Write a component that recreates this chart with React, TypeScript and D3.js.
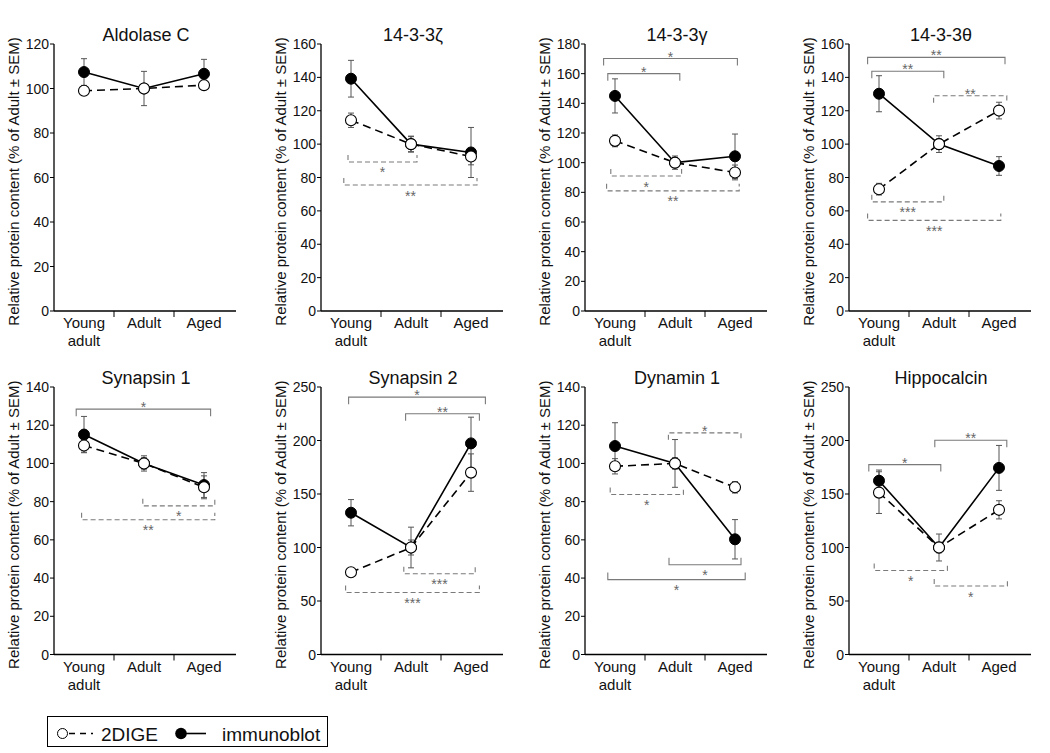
import React from "react";
import * as d3 from "d3";

// ---------- data ----------
const categories = ["Young adult", "Adult", "Aged"];
const panelTitles = ["Aldolase C", "14-3-3ζ", "14-3-3γ", "14-3-3θ", "Synapsin 1", "Synapsin 2", "Dynamin 1", "Hippocalcin"];
const yMaxValues = [120, 160, 180, 160, 140, 250, 140, 250];
const yStepValues = [20, 20, 20, 20, 20, 50, 20, 50];

const digeMean = [
  [99, 100, 101.5],
  [114.3, 100, 92.6],
  [114.7, 100, 93.4],
  [73, 100, 120.1],
  [109.4, 100, 87.5],
  [76.8, 100, 170],
  [98.5, 100, 87.5],
  [151.3, 100, 135.2],
];
const digeSem = [
  [1.5, 2, 1.5],
  [4.3, 4.8, 5],
  [4, 4.5, 5],
  [3.5, 5, 5],
  [3.5, 4, 6],
  [4, 7, 17.5],
  [4, 3, 3],
  [19.5, 5, 8.5],
];
const immunoMean = [
  [107.4, 100, 106.6],
  [139.2, 100, 95],
  [145, 100, 104.3],
  [130.2, 100, 86.9],
  [115.1, 100, 88.7],
  [132.5, 100, 197.3],
  [109.1, 100, 60.3],
  [162.4, 100, 174.4],
];
const immunoSem = [
  [6, 7.7, 6.5],
  [11, 4.5, 15],
  [11.5, 3, 15],
  [10.8, 3, 5.6],
  [9.5, 3, 6.5],
  [12.3, 19, 24.5],
  [12.2, 12.5, 10.3],
  [10, 12.6, 21],
];

type Bracket = { from: number; to: number; y: number; label: string; kind: "solid" | "dashed"; side: "above" | "below" };
const b = (from: number, to: number, y: number, label: string, kind: "solid" | "dashed", side: "above" | "below"): Bracket => ({ from, to, y, label, kind, side });

const significance: Bracket[][] = [
  [],
  [b(-0.05, 1.1, 89.3, "*", "dashed", "below"), b(-0.12, 2.1, 75.5, "**", "dashed", "below")],
  [
    b(-0.19, 2.04, 170.2, "*", "solid", "above"),
    b(-0.12, 1.08, 160, "*", "solid", "above"),
    b(-0.07, 1.11, 91, "*", "dashed", "below"),
    b(-0.14, 2.07, 81, "**", "dashed", "below"),
  ],
  [
    b(-0.19, 2.1, 152, "**", "solid", "above"),
    b(-0.12, 1.08, 143.7, "**", "solid", "above"),
    b(0.91, 2.13, 129, "**", "dashed", "above"),
    b(-0.12, 1.08, 65.4, "***", "dashed", "below"),
    b(-0.19, 2.03, 54.3, "***", "dashed", "below"),
  ],
  [
    b(-0.13, 2.11, 128.4, "*", "solid", "above"),
    b(0.98, 2.18, 77.8, "*", "dashed", "below"),
    b(-0.04, 2.18, 70.5, "**", "dashed", "below"),
  ],
  [
    b(-0.04, 2.24, 240.5, "*", "solid", "above"),
    b(0.91, 2.14, 225, "**", "solid", "above"),
    b(0.88, 2.07, 75.4, "***", "dashed", "below"),
    b(-0.09, 2.14, 57.9, "***", "dashed", "below"),
  ],
  [
    b(0.89, 2.1, 116, "*", "dashed", "above"),
    b(-0.08, 1.14, 83.7, "*", "dashed", "below"),
    b(0.9, 2.1, 47, "*", "solid", "below"),
    b(-0.12, 2.17, 39.2, "*", "solid", "below"),
  ],
  [
    b(-0.17, 1.03, 177.5, "*", "solid", "above"),
    b(0.93, 2.13, 200.2, "**", "solid", "above"),
    b(-0.08, 1.14, 78.5, "*", "dashed", "below"),
    b(0.92, 2.14, 64, "*", "dashed", "below"),
  ],
];

const legendLabels = ["2DIGE", "immunoblot"];
const yAxisLabel = "Relative protein content (% of Adult ± SEM)";

// ---------- layout ----------
const W = 1050;
const H = 753;
const FONT = "'Liberation Sans', Arial, Helvetica, sans-serif";
const colLeft = [54, 321, 585, 849];
const rowTop = [44, 387];
const rowZero = [311, 654.5];
const titleY = [41, 383.5];
const PLOT_W = 180;
const ERR_COL = "#555";
const BR_COL = "#7a7a7a";

function Panel({ i }: { i: number }) {
  const col = i % 4;
  const row = Math.floor(i / 4);
  const x0 = colLeft[col];
  const band = d3.scaleBand().domain(categories).range([x0, x0 + PLOT_W]).padding(0);
  const xi = d3.scaleLinear().domain([-0.5, categories.length - 0.5]).range([x0, x0 + PLOT_W]);
  const y = d3.scaleLinear().domain([0, yMaxValues[i]]).range([rowZero[row], rowTop[row]]);
  const ticks = d3.range(0, yMaxValues[i] + 0.001, yStepValues[i]);
  const line = d3
    .line<number>()
    .x((_, k) => xi(k))
    .y((d) => y(d));

  const series = [
    { mean: digeMean[i], sem: digeSem[i] },
    { mean: immunoMean[i], sem: immunoSem[i] },
  ];

  const zero = rowZero[row];
  const top = rowTop[row];

  return (
    <g>
      <text x={x0 + 92} y={titleY[row]} textAnchor="middle" fontSize={18} fontFamily={FONT} fill="#111">
        {panelTitles[i]}
      </text>
      <text
        transform={`translate(${x0 - 35},${(top + zero) / 2 + 4}) rotate(-90)`}
        textAnchor="middle"
        fontSize={15}
        fontFamily={FONT}
        fill="#111"
      >
        {yAxisLabel}
      </text>
      <line x1={x0} x2={x0} y1={zero} y2={top} stroke="#000" strokeWidth={1.3} />
      {ticks.map((t) => (
        <g key={t}>
          <line x1={x0 - 4} x2={x0} y1={y(t)} y2={y(t)} stroke="#000" strokeWidth={1} />
          <text x={x0 - 5} y={y(t) + 5} textAnchor="end" fontSize={14} fontFamily={FONT} fill="#111">
            {t}
          </text>
        </g>
      ))}
      <line x1={x0} x2={x0 + PLOT_W + 2} y1={zero} y2={zero} stroke="#000" strokeWidth={1.3} />
      {categories.slice(1).map((c) => (
        <line key={c} x1={band(c)!} x2={band(c)!} y1={zero} y2={zero + 6} stroke="#000" strokeWidth={1} />
      ))}
      {categories.map((c) => (
        <text key={c} x={band(c)! + band.bandwidth() / 2} y={zero + 17} textAnchor="middle" fontSize={15} fontFamily={FONT} fill="#111">
          {c.split(" ").map((w, k) => (
            <tspan key={k} x={band(c)! + band.bandwidth() / 2} dy={k === 0 ? 0 : 18}>
              {w}
            </tspan>
          ))}
        </text>
      ))}
      {significance[i].map((br, k) => {
        const yy = y(br.y);
        const dir = br.side === "above" ? 7 : -7;
        const xa = xi(br.from);
        const xb = xi(br.to);
        const dash = br.kind === "dashed" ? "5,3" : undefined;
        return (
          <g key={k}>
            <path
              d={`M${xa},${yy + dir}V${yy}H${xb}V${yy + dir}`}
              fill="none"
              stroke={BR_COL}
              strokeWidth={1.1}
              strokeDasharray={dash}
            />
            <text
              x={(xa + xb) / 2}
              y={br.side === "above" ? yy + 3 : yy + 15.5}
              textAnchor="middle"
              fontSize={14}
              fontFamily={FONT}
              fill="#666"
            >
              {br.label}
            </text>
          </g>
        );
      })}
      {series.map((s, si) =>
        s.mean.map((m, k) => {
          const cx = xi(k);
          const y1 = y(m + s.sem[k]);
          const y2 = y(m - s.sem[k]);
          return (
            <g key={`e${si}-${k}`} stroke={ERR_COL} strokeWidth={1}>
              <line x1={cx} x2={cx} y1={y1} y2={y2} />
              <line x1={cx - 3} x2={cx + 3} y1={y1} y2={y1} />
              <line x1={cx - 3} x2={cx + 3} y1={y2} y2={y2} />
            </g>
          );
        })
      )}
      <path d={line(digeMean[i])!} fill="none" stroke="#000" strokeWidth={1.6} strokeDasharray="8,5" />
      <path d={line(immunoMean[i])!} fill="none" stroke="#000" strokeWidth={1.6} />
      {immunoMean[i].map((m, k) => (
        <circle key={`f${k}`} cx={xi(k)} cy={y(m)} r={5.5} fill="#000" stroke="#000" />
      ))}
      {digeMean[i].map((m, k) => (
        <circle key={`o${k}`} cx={xi(k)} cy={y(m)} r={5.5} fill="#fff" stroke="#000" strokeWidth={1.1} />
      ))}
    </g>
  );
}

function Legend() {
  const cy = 733.5;
  return (
    <g>
      <rect x={47.5} y={716.5} width={280} height={30} fill="#fff" stroke="#000" strokeWidth={1} />
      <line x1={67} x2={93} y1={cy} y2={cy} stroke="#000" strokeWidth={1.4} strokeDasharray="6,5" strokeDashoffset={-2} />
      <circle cx={62.5} cy={cy} r={5} fill="#fff" stroke="#000" strokeWidth={1} />
      <text x={101} y={740.5} fontSize={19} fontFamily={FONT} fill="#111">
        {legendLabels[0]}
      </text>
      <line x1={181} x2={206} y1={cy} y2={cy} stroke="#000" strokeWidth={1.6} />
      <circle cx={181} cy={cy} r={5.8} fill="#000" />
      <text x={222} y={740.5} fontSize={19} fontFamily={FONT} fill="#111">
        {legendLabels[1]}
      </text>
    </g>
  );
}

export default function App() {
  return (
    <svg width={W} height={H} viewBox={`0 0 ${W} ${H}`} style={{ position: "absolute", left: 0, top: 0, background: "#fff" }}>
      <rect x={0} y={0} width={W} height={H} fill="#fff" />
      {panelTitles.map((_, i) => (
        <Panel key={i} i={i} />
      ))}
      <Legend />
    </svg>
  );
}
